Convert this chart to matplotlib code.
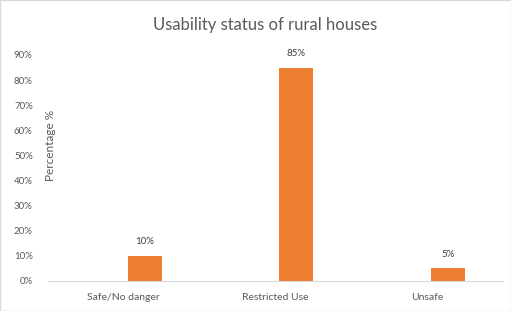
import matplotlib
matplotlib.use("Agg")
import matplotlib.pyplot as plt
from matplotlib.patches import Rectangle

categories = ["Safe/No danger", "Restricted Use", "Unsafe"]
values = [0.10, 0.85, 0.05]
labels = ["10%", "85%", "5%"]
yticks = [0.0, 0.1, 0.2, 0.3, 0.4, 0.5, 0.6, 0.7, 0.8, 0.9]

plt.rcParams['font.family'] = ['Lato', 'DejaVu Sans']
grey = "#595959"

fig = plt.figure(figsize=(5.11, 3.11), dpi=100)
ax = fig.add_axes([48 / 511, 30 / 311, 455 / 511, 226 / 311])

x = list(range(len(categories)))
# bars sit right of the category centre (as in the original clustered chart)
bx = [xi + 0.138 for xi in x]
ax.bar(bx, values, width=0.224, color="#ED7D31")
for xi, v, t in zip(bx, values, labels):
    ax.annotate(t, (xi, v), xytext=(0, 7), textcoords="offset points",
                ha="center", va="bottom", fontsize=7, color="#404040")

ax.set_xlim(-0.5, 2.5)
ax.set_ylim(0, 0.9)
ax.set_yticks(yticks)
ax.set_yticklabels(["%d%%" % round(t * 100) for t in yticks])
ax.set_xticks(x)
ax.set_xticklabels(categories)
ax.tick_params(axis="y", length=0, pad=11, labelsize=7, labelcolor=grey)
ax.tick_params(axis="x", length=0, pad=9, labelsize=7.5, labelcolor=grey)
for s in ["top", "right", "left"]:
    ax.spines[s].set_visible(False)
ax.spines["bottom"].set_color("#d9d9d9")
ax.spines["bottom"].set_clip_on(False)

fig.text(265 / 511, 1 - 25 / 311, "Usability status of rural houses",
         ha="center", va="center", fontsize=12, color=grey)
fig.text(51 / 511, 1 - 145 / 311, "Percentage %", rotation=90,
         ha="center", va="center", fontsize=8.5, color=grey)

fig.patches.append(Rectangle((0, 0), 1, 1, transform=fig.transFigure,
                             fill=False, edgecolor="#d9d9d9", linewidth=1))

fig.savefig("out.png", dpi=100)
